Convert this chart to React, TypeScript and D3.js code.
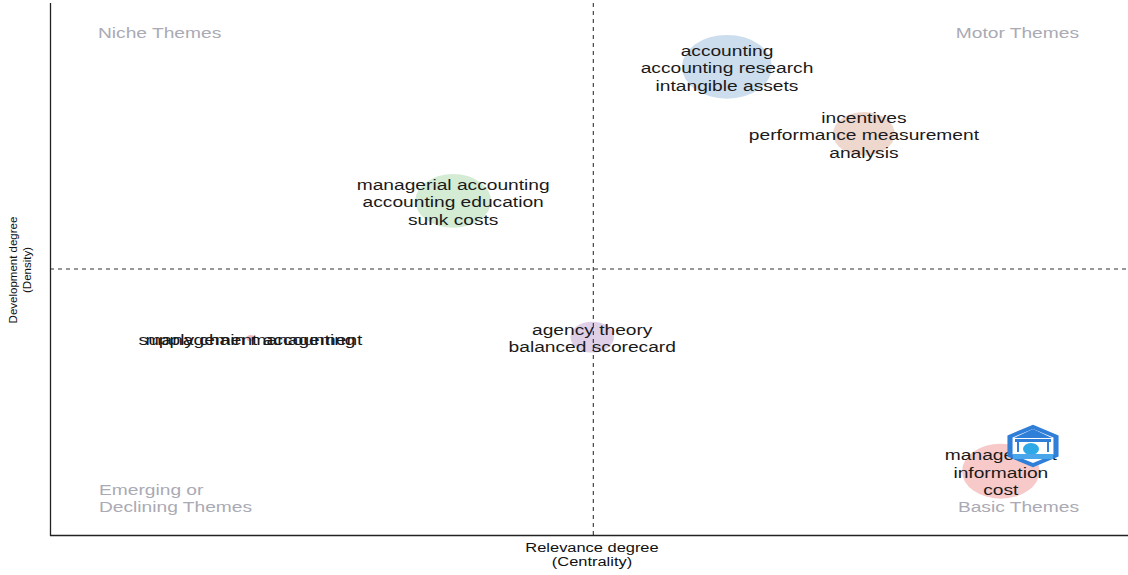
import React from "react";
import * as d3 from "d3";

// ---- data ----
const clusterLabels: string[][] = [
  ["accounting", "accounting research", "intangible assets"],
  ["incentives", "performance measurement", "analysis"],
  ["managerial accounting", "accounting education", "sunk costs"],
  ["agency theory", "balanced scorecard"],
  ["supply chain management"],
  ["management accounting"],
  ["management", "information", "cost"],
];
const centrality: number[] = [0.628, 0.755, 0.374, 0.503, 0.186, 0.186, 0.882];
const density: number[] = [0.88, 0.754, 0.628, 0.372, 0.37, 0.37, 0.12];
const frequency: number[] = [205, 96, 145, 48, 1.6, 1.6, 152];
const clusterColors: string[] = ["#c6d9ec", "#ecd3c6", "#cfe9cf", "#dccbe6", "#f5b9b9", "#f5b9b9", "#f6c3c3"];
const quadrantNames = {
  niche: ["Niche Themes"],
  motor: ["Motor Themes"],
  emerging: ["Emerging or", "Declining Themes"],
  basic: ["Basic Themes"],
};
const xTitle = ["Relevance degree", "(Centrality)"];
const yTitle = ["Development degree", "(Density)"];
const centralityMid = 0.504;
const densityMid = 0.5;

const W = 1128;
const H = 575;
const SX = 1.37; // horizontal stretch of text
const FONT = "'Liberation Sans', Arial, sans-serif";

export default function App() {
  const x = d3.scaleLinear().domain([0, 1]).range([50, 1128]);
  const y = d3.scaleLinear().domain([0, 1]).range([535, 3]);
  const r = d3.scaleSqrt().domain([0, 205]).range([0, 45]);
  const aspect = 0.71;

  const stretchedText = (
    lines: string[],
    cx: number,
    cy: number,
    size: number,
    lh: number,
    anchor: string,
    fill: string,
    key: string
  ) => (
    <g key={key} transform={`translate(${cx},${cy}) scale(${SX},1)`}>
      {lines.map((l, i) => (
        <text
          key={i}
          x={0}
          y={(i - (lines.length - 1) / 2) * lh}
          dy="0.35em"
          textAnchor={anchor}
          fontSize={size}
          fontFamily={FONT}
          fill={fill}
        >
          {l}
        </text>
      ))}
    </g>
  );

  const quadColor = "#aaaab4";
  const hexR = 29.5;
  const hex = d3.range(6).map((i) => {
    const a = (Math.PI / 3) * i - Math.PI / 2;
    return [Math.cos(a) * hexR, Math.sin(a) * hexR * 0.72];
  });
  const hexInner = hex.map(([a, b]) => [a * 0.8, b * 0.8]);
  const hexPath = (pts: number[][]) => "M" + pts.map((p) => p.join(",")).join("L") + "Z";

  return (
    <div style={{ position: "absolute", left: 0, top: 0 }}>
      <svg width={W} height={H} style={{ display: "block", background: "#fff" }}>
        {/* bubbles */}
        {centrality.map((c, i) => (
          <ellipse
            key={"b" + i}
            cx={x(c)}
            cy={y(density[i])}
            rx={r(frequency[i])}
            ry={r(frequency[i]) * aspect}
            fill={clusterColors[i]}
            opacity={0.9}
          />
        ))}
        {/* dashed reference lines */}
        <line x1={x(centralityMid)} x2={x(centralityMid)} y1={3} y2={535} stroke="#333" strokeWidth={1.1} strokeDasharray="4,4" />
        <line x1={50} x2={1128} y1={y(densityMid)} y2={y(densityMid)} stroke="#333" strokeWidth={1.1} strokeDasharray="4,4" />
        {/* axes */}
        <line x1={50.5} x2={50.5} y1={3} y2={536} stroke="#222" strokeWidth={1.3} />
        <line x1={50} x2={1128} y1={535.5} y2={535.5} stroke="#222" strokeWidth={1.3} />
        {/* quadrant labels */}
        {stretchedText(quadrantNames.niche, 98, 33, 14, 17.5, "start", quadColor, "q1")}
        {stretchedText(quadrantNames.motor, 1079, 33, 14, 17.5, "end", quadColor, "q2")}
        {stretchedText(quadrantNames.emerging, 99, 498.5, 14, 17.5, "start", quadColor, "q3")}
        {stretchedText(quadrantNames.basic, 1079, 507, 14, 17.5, "end", quadColor, "q4")}
        {/* cluster labels */}
        {clusterLabels.map((lines, i) =>
          stretchedText(lines, x(centrality[i]), y(density[i]) + 1.5, 14, 17.5, "middle", "#1a1a1a", "l" + i)
        )}
        {/* logo */}
        <g transform="translate(1033,446)">
          <path d={hexPath(hex)} fill="#2f7fd8" />
          <path d={hexPath(hexInner)} fill="#ffffff" />
          <path d="M-19,-8 L0,-17 L19,-8 Z" fill="#2f7fd8" />
          <rect x={-18} y={-7} width={36} height={3} fill="#2f7fd8" />
          <rect x={-16} y={-4} width={2} height={10} fill="#2f7fd8" />
          <rect x={14} y={-4} width={2} height={10} fill="#2f7fd8" />
          <ellipse cx={-2} cy={3} rx={8} ry={6} fill="#2fa8e8" />
          <rect x={-20} y={8} width={40} height={5} fill="#4aa6ea" />
        </g>
        {/* axis titles */}
        {stretchedText(xTitle, 592, 555, 12, 14, "middle", "#111", "xt")}
        <g transform="translate(0,270) rotate(-90)">
          {yTitle.map((l, i) => (
            <text key={i} x={0} y={17 + i * 14} textAnchor="middle" fontSize={11.5} fontFamily={FONT} fill="#111">
              {l}
            </text>
          ))}
        </g>
      </svg>
    </div>
  );
}
